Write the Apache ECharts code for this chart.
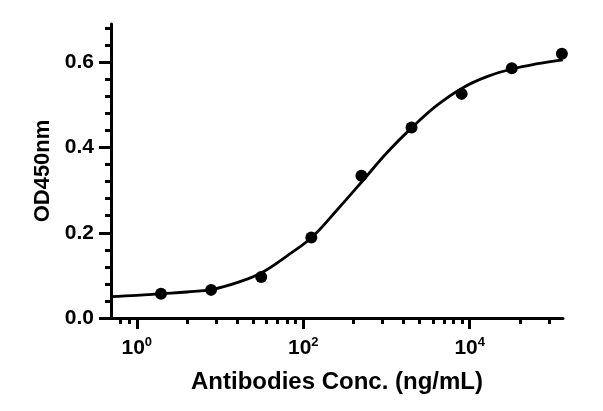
<!DOCTYPE html>
<html>
<head>
<meta charset="utf-8">
<script src="https://cdn.jsdelivr.net/npm/echarts@6/dist/echarts.min.js"></script>
<style>
html,body{margin:0;padding:0;background:#fff;}
#chart{width:603px;height:411px;}
</style>
</head>
<body>
<div id="chart"></div>
<script>
// Measured points (4-fold dilution series)
var conc = [1.953, 7.8125, 31.25, 125, 500, 2000, 8000, 32000, 128000];
var od = [0.057, 0.066, 0.096, 0.189, 0.334, 0.447, 0.526, 0.586, 0.620];

// Fitted curve
var fitX = [0.49, 1, 2, 4, 8, 16, 32, 64, 128, 256, 512, 1024, 2048, 4096, 8192, 16384, 32768, 65536, 131072];
var fitY = [0.050, 0.053, 0.057, 0.061, 0.067, 0.083, 0.107, 0.146, 0.190, 0.254, 0.321, 0.389, 0.448, 0.500, 0.540, 0.567, 0.585, 0.597, 0.606];

// Tick values
var xMajorTicks = [1, 100, 10000];
var xMinorTicks = [0.64, 0.81, 4, 9, 16, 25, 36, 49, 64, 81, 400, 900, 1600, 2500, 3600, 4900, 6400, 8100, 40000, 90000];
var yMajorTicks = [0, 0.2, 0.4, 0.6];
var yMinorTicks = [0.04, 0.08, 0.12, 0.16, 0.24, 0.28, 0.32, 0.36, 0.44, 0.48, 0.52, 0.56, 0.64, 0.68];

var FONT = '"Liberation Sans", Arial, Helvetica, sans-serif';
var lineStyle = {color: '#000', width: 3};

var chart = echarts.init(document.getElementById('chart'));
chart.setOption({
  animation: false,
  backgroundColor: '#fff',
  grid: {left: 111, right: 40, top: 24, bottom: 93},
  xAxis: [{
    type: 'log', logBase: 10, min: 0.49, max: 132000, position: 'bottom',
    axisLine: {show: true, lineStyle: lineStyle},
    axisTick: {show: true, customValues: xMajorTicks, length: 11, lineStyle: lineStyle},
    axisLabel: {
      customValues: xMajorTicks, margin: 18,
      formatter: function (v) { return '{b|10}{s|' + Math.round(Math.log10(v)) + '}'; },
      rich: {
        b: {fontFamily: FONT, fontSize: 21, fontWeight: 'bold', color: '#000', lineHeight: 24},
        s: {fontFamily: FONT, fontSize: 13, fontWeight: 'bold', color: '#000', lineHeight: 14, verticalAlign: 'top'}
      }
    },
    splitLine: {show: false}, minorTick: {show: false},
    name: 'Antibodies Conc. (ng/mL)', nameLocation: 'middle', nameGap: 52,
    nameTextStyle: {fontFamily: FONT, fontSize: 24, fontWeight: 'bold', color: '#000'}
  }, {
    type: 'log', logBase: 10, min: 0.49, max: 132000, position: 'bottom',
    axisLine: {show: false},
    axisTick: {show: true, customValues: xMinorTicks, length: 6, lineStyle: lineStyle},
    axisLabel: {show: false}, splitLine: {show: false}
  }],
  yAxis: [{
    type: 'value', min: 0, max: 0.69, position: 'left',
    axisLine: {show: true, lineStyle: lineStyle},
    axisTick: {show: true, customValues: yMajorTicks, length: 12, lineStyle: lineStyle},
    axisLabel: {
      customValues: yMajorTicks, margin: 17,
      formatter: function (v) { return v.toFixed(1); },
      fontFamily: FONT, fontSize: 21, fontWeight: 'bold', color: '#000'
    },
    splitLine: {show: false},
    name: 'OD450nm', nameLocation: 'middle', nameGap: 50,
    nameTextStyle: {fontFamily: FONT, fontSize: 22, fontWeight: 'bold', color: '#000'}
  }, {
    type: 'value', min: 0, max: 0.69, position: 'left', offset: 0,
    axisLine: {show: false},
    axisTick: {show: true, customValues: yMinorTicks, length: 6, lineStyle: lineStyle},
    axisLabel: {show: false}, splitLine: {show: false}
  }],
  series: [{
    type: 'line', xAxisIndex: 0, yAxisIndex: 0,
    data: fitX.map(function (x, i) { return [x, fitY[i]]; }),
    smooth: 0.4, showSymbol: false, symbol: 'none',
    lineStyle: {color: '#000', width: 2.8}, z: 2
  }, {
    type: 'scatter', xAxisIndex: 0, yAxisIndex: 0,
    data: conc.map(function (x, i) { return [x, od[i]]; }),
    symbol: 'circle', symbolSize: 12,
    itemStyle: {color: '#000', opacity: 1}, z: 3
  }]
});
</script>
</body>
</html>
